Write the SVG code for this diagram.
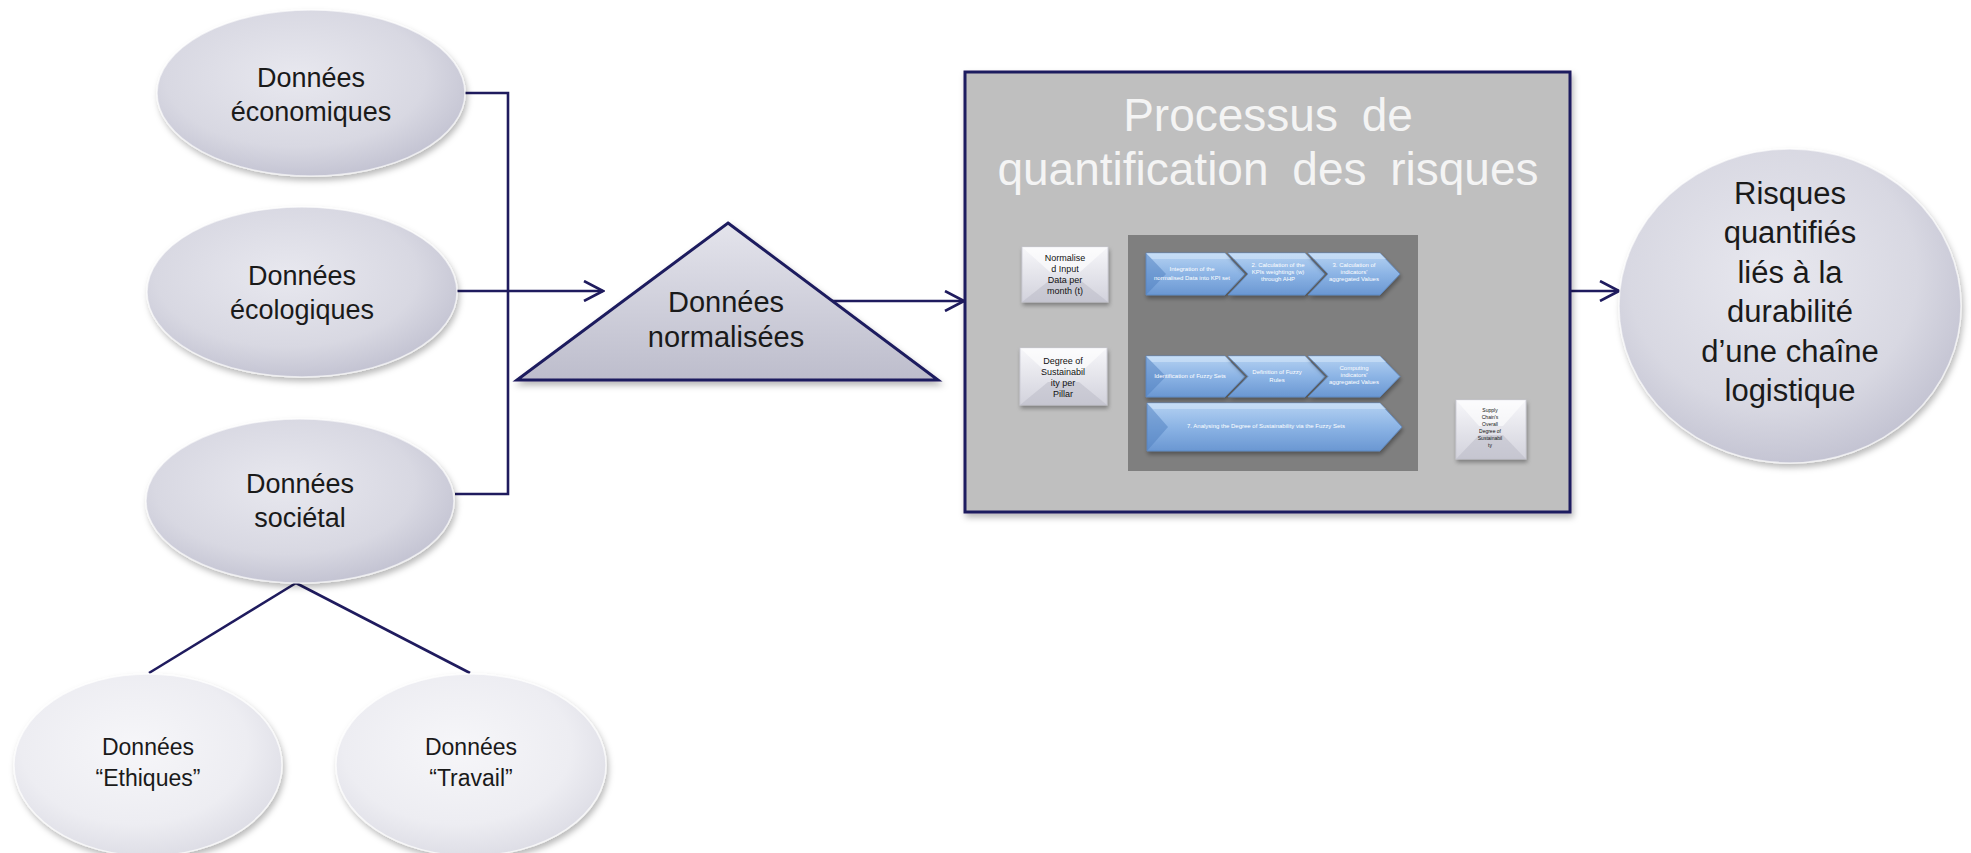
<svg xmlns="http://www.w3.org/2000/svg" width="1971" height="853" viewBox="0 0 1971 853">
<style>
.lbl{font-family:"Liberation Sans",Arial,sans-serif;fill:#1a1a1a;text-anchor:middle}
.big{font-size:27px}
.sm{font-size:23px}
.tri{font-size:29px}
.circ{font-size:31px}
.title{font-family:"Liberation Sans",Arial,sans-serif;fill:#f4f4f4;font-size:46px;text-anchor:middle;word-spacing:11px}
.bt{font-family:"Liberation Sans",Arial,sans-serif;fill:#111;text-anchor:middle;font-size:9px}
.bt2{font-family:"Liberation Sans",Arial,sans-serif;fill:#111;text-anchor:middle;font-size:5px}
.wt{font-family:"Liberation Sans",Arial,sans-serif;fill:#ffffff;text-anchor:middle;font-size:6px}
.con{fill:none;stroke:#1f1b5e;stroke-width:2.6}
.ell{fill:url(#ellG);stroke:#ffffff;stroke-opacity:.6;stroke-width:1.5;filter:url(#sh)}
.ellL{fill:url(#ellL);stroke:#ffffff;stroke-opacity:.7;stroke-width:1.5;filter:url(#sh)}
.seg{fill:url(#blueG);stroke:#5b86c0;stroke-width:.8;filter:url(#sh2)}
.fac{fill:#4f7fc0;opacity:.5}
.hil{fill:#d6e7fa;opacity:.55}
.bev{fill:url(#bevG);stroke:#c9c9d3;stroke-width:.8;filter:url(#sh2)}
.bevf{fill:#ffffff;opacity:.6}
.bevd{fill:#b9b9c6;opacity:.5}
</style>
<defs>
<filter id="sh" x="-10%" y="-10%" width="125%" height="130%">
<feDropShadow dx="2" dy="4" stdDeviation="3" flood-color="#000" flood-opacity="0.28"/>
</filter>
<filter id="sh2" x="-10%" y="-10%" width="125%" height="140%">
<feDropShadow dx="1" dy="3" stdDeviation="2" flood-color="#000" flood-opacity="0.35"/>
</filter>
<radialGradient id="ellG" cx="45%" cy="40%" r="65%">
<stop offset="0" stop-color="#e8e8ef"/>
<stop offset="0.65" stop-color="#d8d8e2"/>
<stop offset="1" stop-color="#bfbfcf"/>
</radialGradient>
<radialGradient id="ellL" cx="45%" cy="40%" r="65%">
<stop offset="0" stop-color="#f6f6f9"/>
<stop offset="0.65" stop-color="#ededf2"/>
<stop offset="1" stop-color="#dadae3"/>
</radialGradient>
<linearGradient id="triG" x1="0" y1="0" x2="0" y2="1">
<stop offset="0" stop-color="#e4e4ec"/>
<stop offset="1" stop-color="#bdbdcc"/>
</linearGradient>
<linearGradient id="blueG" x1="0" y1="0" x2="0" y2="1">
<stop offset="0" stop-color="#b5d2f2"/>
<stop offset="0.5" stop-color="#8cb4e5"/>
<stop offset="1" stop-color="#6a97d2"/>
</linearGradient>
<linearGradient id="bevG" x1="0" y1="0" x2="0" y2="1">
<stop offset="0" stop-color="#f7f7fa"/>
<stop offset="1" stop-color="#d2d2dc"/>
</linearGradient>
<marker id="arr" viewBox="0 0 22 22" refX="20" refY="11" markerWidth="22" markerHeight="22" markerUnits="userSpaceOnUse" orient="auto">
<path d="M1,1 L20,11 L1,21" fill="none" stroke="#1f1b5e" stroke-width="2.6"/>
</marker>
</defs>

<g id="connectors">
<polyline class="con" points="465,93 508,93 508,494 455,494"/>
<line class="con" x1="457" y1="291" x2="603" y2="291" marker-end="url(#arr)"/>
<line class="con" x1="832" y1="301" x2="964" y2="301" marker-end="url(#arr)"/>
<line class="con" x1="1571" y1="291" x2="1619" y2="291" marker-end="url(#arr)"/>
<line class="con" x1="296" y1="583" x2="149" y2="673"/>
<line class="con" x1="296" y1="583" x2="470" y2="673"/>
</g>

<g id="n-economiques">
<ellipse class="ell" cx="311" cy="93" rx="154" ry="83"/>
<text class="lbl big" x="311" y="87">Données</text>
<text class="lbl big" x="311" y="121">économiques</text>
</g>
<g id="n-ecologiques">
<ellipse class="ell" cx="302" cy="292" rx="155" ry="85"/>
<text class="lbl big" x="302" y="285">Données</text>
<text class="lbl big" x="302" y="319">écologiques</text>
</g>
<g id="n-societal">
<ellipse class="ell" cx="300" cy="501" rx="154" ry="82"/>
<text class="lbl big" x="300" y="493">Données</text>
<text class="lbl big" x="300" y="527">sociétal</text>
</g>
<g id="n-ethiques">
<ellipse class="ellL" cx="148" cy="765" rx="134" ry="91"/>
<text class="lbl sm" x="148" y="755">Données</text>
<text class="lbl sm" x="148" y="786">“Ethiques”</text>
</g>
<g id="n-travail">
<ellipse class="ellL" cx="471" cy="765" rx="135" ry="91"/>
<text class="lbl sm" x="471" y="755">Données</text>
<text class="lbl sm" x="471" y="786">“Travail”</text>
</g>

<g id="n-normalisees">
<polygon points="728,223 938,380 517,380" fill="url(#triG)" stroke="#1f1b5e" stroke-width="3" stroke-linejoin="miter" filter="url(#sh)"/>
<text class="lbl tri" x="726" y="312">Données</text>
<text class="lbl tri" x="726" y="347">normalisées</text>
</g>

<g id="n-processus">
<rect x="965" y="72" width="605" height="440" fill="#bfbfbf" stroke="#1f1b5e" stroke-width="3" filter="url(#sh)"/>
<text class="title" x="1268" y="131">Processus de</text>
<text class="title" x="1268" y="185">quantification des risques</text>
<rect x="1128" y="235" width="290" height="236" fill="#7f7f7f"/>
</g>

<g id="n-box-normalise">
<rect class="bev" x="1022" y="247" width="86" height="55"/>
<polygon class="bevf" points="1022,247 1108,247 1080,272 1050,272"/>
<polygon class="bevd" points="1022,302 1108,302 1080,280 1050,280"/>
<text class="bt" x="1065" y="261">Normalise</text>
<text class="bt" x="1065" y="272">d Input</text>
<text class="bt" x="1065" y="283">Data per</text>
<text class="bt" x="1065" y="294">month (t)</text>
</g>
<g id="n-box-degree">
<rect class="bev" x="1020" y="348" width="87" height="57"/>
<polygon class="bevf" points="1020,348 1107,348 1079,374 1048,374"/>
<polygon class="bevd" points="1020,405 1107,405 1079,382 1048,382"/>
<text class="bt" x="1063" y="364">Degree of</text>
<text class="bt" x="1063" y="375">Sustainabil</text>
<text class="bt" x="1063" y="386">ity per</text>
<text class="bt" x="1063" y="397">Pillar</text>
</g>
<g id="n-box-supply">
<rect class="bev" x="1456" y="400" width="70" height="59"/>
<polygon class="bevf" points="1456,400 1526,400 1503,426 1479,426"/>
<polygon class="bevd" points="1456,459 1526,459 1503,435 1479,435"/>
<text class="bt2" x="1490" y="412">Supply</text>
<text class="bt2" x="1490" y="419">Chain's</text>
<text class="bt2" x="1490" y="426">Overall</text>
<text class="bt2" x="1490" y="433">Degree of</text>
<text class="bt2" x="1490" y="440">Sustainabil</text>
<text class="bt2" x="1490" y="447">ty</text>
</g>

<g id="n-step1">
<path class="seg" d="M1146,253 L1225,253 L1245,274 L1225,295 L1146,295 Z"/>
<polygon class="fac" points="1146,253 1166,274 1146,295"/>
<polygon class="hil" points="1146,253 1225,253 1231,259 1152,259"/>
<text class="wt" x="1192" y="271">Integration of the</text>
<text class="wt" x="1192" y="280">normalised Data into KPI set</text>
</g>
<g id="n-step2">
<path class="seg" d="M1228,253 L1305,253 L1325,274 L1305,295 L1228,295 L1248,274 Z"/>
<polygon class="hil" points="1228,253 1305,253 1311,259 1234,259"/>
<text class="wt" x="1278" y="267">2. Calculation of the</text>
<text class="wt" x="1278" y="274">KPIs weightings (w)</text>
<text class="wt" x="1278" y="281">through AHP</text>
</g>
<g id="n-step3">
<path class="seg" d="M1308,253 L1380,253 L1400,274 L1380,295 L1308,295 L1328,274 Z"/>
<polygon class="hil" points="1308,253 1380,253 1386,259 1314,259"/>
<text class="wt" x="1354" y="267">3. Calculation of</text>
<text class="wt" x="1354" y="274">indicators'</text>
<text class="wt" x="1354" y="281">aggregated Values</text>
</g>
<g id="n-step4">
<path class="seg" d="M1146,356 L1225,356 L1245,376.5 L1225,397 L1146,397 Z"/>
<polygon class="fac" points="1146,356 1166,376.5 1146,397"/>
<polygon class="hil" points="1146,356 1225,356 1231,362 1152,362"/>
<text class="wt" x="1190" y="378">Identification of Fuzzy Sets</text>
</g>
<g id="n-step5">
<path class="seg" d="M1228,356 L1305,356 L1325,376.5 L1305,397 L1228,397 L1248,376.5 Z"/>
<polygon class="hil" points="1228,356 1305,356 1311,362 1234,362"/>
<text class="wt" x="1277" y="374">Definition of Fuzzy</text>
<text class="wt" x="1277" y="382">Rules</text>
</g>
<g id="n-step6">
<path class="seg" d="M1308,356 L1380,356 L1400,376.5 L1380,397 L1308,397 L1328,376.5 Z"/>
<polygon class="hil" points="1308,356 1380,356 1386,362 1314,362"/>
<text class="wt" x="1354" y="370">Computing</text>
<text class="wt" x="1354" y="377">indicators'</text>
<text class="wt" x="1354" y="384">aggregated Values</text>
</g>
<g id="n-step7">
<path class="seg" d="M1147,403 L1380,403 L1402,427 L1380,451 L1147,451 Z"/>
<polygon class="fac" points="1147,403 1168,427 1147,451"/>
<polygon class="hil" points="1147,403 1380,403 1386,409 1153,409"/>
<text class="wt" x="1266" y="428">7. Analysing the Degree of Sustainability via the Fuzzy Sets</text>
</g>

<g id="n-risques">
<ellipse class="ell" cx="1790" cy="306" rx="171" ry="157"/>
<text class="lbl circ" x="1790" y="204">Risques</text>
<text class="lbl circ" x="1790" y="243">quantifiés</text>
<text class="lbl circ" x="1790" y="283">liés à la</text>
<text class="lbl circ" x="1790" y="322">durabilité</text>
<text class="lbl circ" x="1790" y="362">d’une chaîne</text>
<text class="lbl circ" x="1790" y="401">logistique</text>
</g>
</svg>
